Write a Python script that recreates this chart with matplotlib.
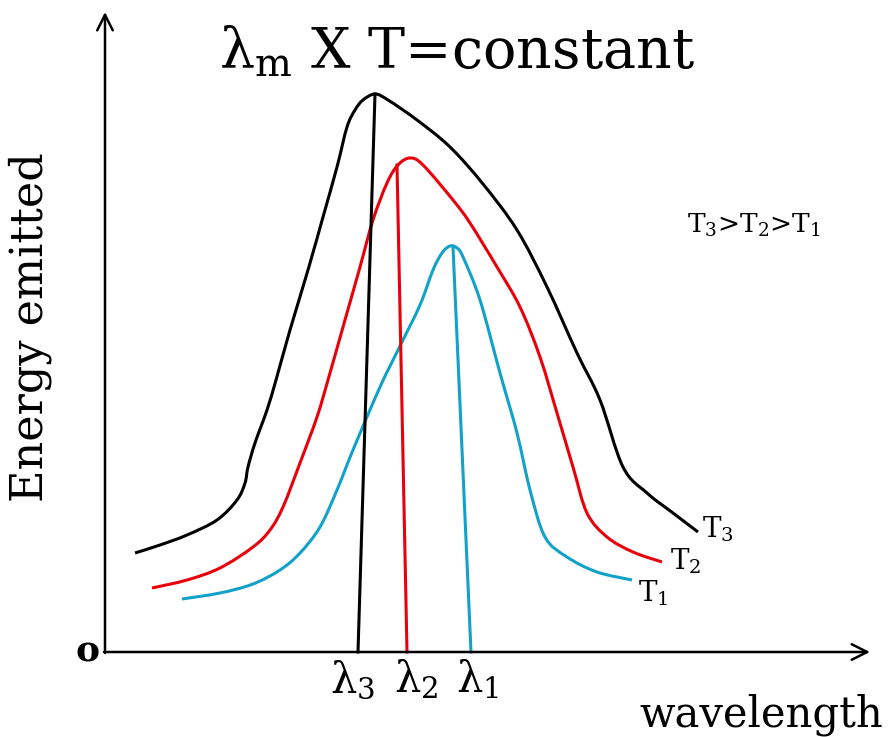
import matplotlib
matplotlib.use('Agg')
import matplotlib.pyplot as plt
from matplotlib.path import Path
from matplotlib.patches import PathPatch

plt.rcParams['font.family'] = ['DejaVu Serif']
plt.rcParams['mathtext.fontset'] = 'dejavuserif'

# curves (wavelength, energy) in arbitrary units
t3_x = [30, 55, 82, 112, 132, 140, 143, 150, 162, 171, 185, 203, 218, 232, 242, 250, 258, 270,
        283, 312, 345, 378, 412, 442, 472, 495, 518, 542, 568, 593]
t3_y = [99, 107, 117, 132, 152, 169, 185, 209, 242, 272, 322, 382, 435, 485, 525, 542, 552, 558,
        552, 532, 505, 468, 422, 365, 299, 252, 185, 159, 139, 120]

t2_x = [47, 82, 115, 148, 165, 178, 195, 212, 223, 240, 255, 268, 282, 293, 305, 318, 348,
        365, 392, 415, 435, 452, 468, 482, 502, 528, 557]
t2_y = [64, 72, 84, 105, 122, 145, 189, 235, 272, 332, 385, 432, 469, 487, 494, 487, 452,
        429, 385, 345, 295, 239, 185, 139, 115, 100, 90]

t1_x = [77, 115, 148, 175, 195, 215, 232, 248, 275, 295, 315, 328, 337, 345, 352, 358, 375, 395,
        412, 425, 440, 462, 492, 527]
t1_y = [53, 59, 68, 82, 99, 125, 162, 202, 265, 306, 347, 382, 399, 406, 404, 395, 352, 279,
        219, 162, 115, 95, 80, 72]

# lambda_m lines: foot on the axis -> peak of each curve
lam_foot = [253, 302, 366]
lam_peak_x = [270, 292, 348]
lam_peak_y = [558, 487, 405]
lam_labels = [r'λ$_3$', r'λ$_2$', r'λ$_1$']
curve_labels = [r'T$_3$', r'T$_2$', r'T$_1$']

colors = ['black', '#e8000b', '#12a2c9']


def smooth_path(xs, ys):
    # draw the read points as one smooth bezier path
    pts = list(zip(xs, ys))
    n = len(pts)
    verts = [pts[0]]
    codes = [Path.MOVETO]
    for i in range(n - 1):
        p0 = pts[max(i - 1, 0)]
        p1 = pts[i]
        p2 = pts[i + 1]
        p3 = pts[min(i + 2, n - 1)]
        c1 = (p1[0] + (p2[0] - p0[0]) / 6, p1[1] + (p2[1] - p0[1]) / 6)
        c2 = (p2[0] - (p3[0] - p1[0]) / 6, p2[1] - (p3[1] - p1[1]) / 6)
        verts += [c1, c2, p2]
        codes += [Path.CURVE4] * 3
    return Path(verts, codes)


fig = plt.figure(figsize=(8.91, 7.37), dpi=100)
ax = fig.add_axes([0, 0, 1, 1])
ax.set_xlim(-105, 786)
ax.set_ylim(-85, 652)
ax.axis('off')

# axes with open arrow heads
ax.annotate('', xy=(0, 640), xytext=(0, -1),
            arrowprops=dict(arrowstyle='->', lw=1.8, color='black', mutation_scale=28,
                            shrinkA=0, shrinkB=0))
ax.annotate('', xy=(765, 0), xytext=(-1, 0),
            arrowprops=dict(arrowstyle='->', lw=1.8, color='black', mutation_scale=28,
                            shrinkA=0, shrinkB=0))

curves = [(t3_x, t3_y), (t2_x, t2_y), (t1_x, t1_y)]
for (cx, cy), c in zip(curves, colors):
    ax.add_patch(PathPatch(smooth_path(cx, cy), fill=False, edgecolor=c, lw=2.2))

for i in range(3):
    ax.plot([lam_foot[i], lam_peak_x[i]], [0, lam_peak_y[i]], color=colors[i], lw=2.2)

lab_x = [248, 311, 373]
for i in range(3):
    ax.text(lab_x[i], -40, lam_labels[i], fontsize=30, ha='center', va='baseline')

ax.text(597, 115, curve_labels[0], fontsize=20, ha='left', va='baseline')
ax.text(565, 82, curve_labels[1], fontsize=20, ha='left', va='baseline')
ax.text(533, 51, curve_labels[2], fontsize=20, ha='left', va='baseline')

ax.text(352, 584, r'λ$_\mathrm{m}$ X T=constant', fontsize=40, ha='center', va='baseline')
ax.text(582, 419, r'T$_3$>T$_2$>T$_1$', fontsize=19, ha='left', va='baseline')
ax.text(-62, 325, 'Energy emitted', fontsize=32, rotation=90, rotation_mode='anchor',
        ha='center', va='baseline')
ax.text(656, -75, 'wavelength', fontsize=30, ha='center', va='baseline')
ax.text(-17, 0, 'o', fontsize=26, fontweight='bold', ha='center', va='center')

fig.savefig('out.png', dpi=100)
